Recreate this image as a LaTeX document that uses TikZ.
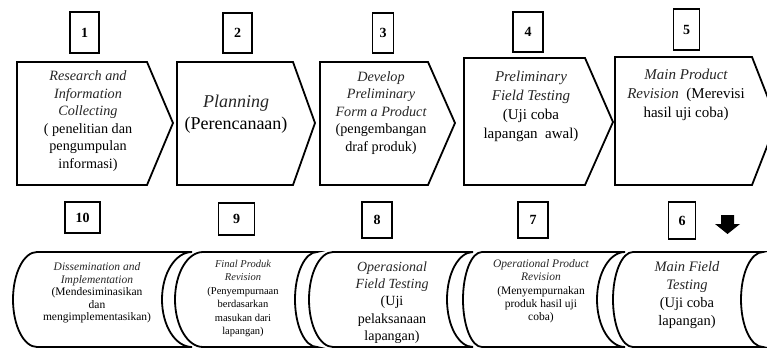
\documentclass[tikz,border=0pt]{standalone}
\usepackage{fontspec}
\setmainfont{Liberation Serif}
\newcommand{\myfs}[2]{\fontsize{#1}{#2}\selectfont}
\newcommand{\itx}[1]{{\itshape\color{black!85}#1}}
\tikzset{
  outline/.style={draw=black, line width=1.8pt, line join=miter, fill=white},
  numbox/.style={draw=black, line width=1.8pt, fill=white},
  numtxt/.style={font=\myfs{14}{16}\bfseries, inner sep=0pt},
  label/.style={align=center, inner sep=0pt}
}
% chevron: left, top, rectright, tip, tipy, bottom
\newcommand{\chevron}[6]{\path[outline] (#1,#2) -- (#3,#2) -- (#4,#5) -- (#3,#6) -- (#1,#6) -- cycle;}
% scroll: x0, x1, depth left, depth right, top, bottom
\newcommand{\scrollshape}[6]{%
  \pgfmathsetmacro{\mymid}{(#5+#6)/2}%
  \pgfmathsetmacro{\myh}{(#6-#5)/2*0.552}%
  \pgfmathsetmacro{\mydl}{#3*0.552}%
  \pgfmathsetmacro{\mydr}{#4*0.552}%
  \path[outline] (#1,#5) -- (#2,#5)
    .. controls ({#2-\mydr},#5) and ({#2-#4},{\mymid-\myh}) .. ({#2-#4},\mymid)
    .. controls ({#2-#4},{\mymid+\myh}) and ({#2-\mydr},#6) .. (#2,#6)
    -- (#1,#6)
    .. controls ({#1-\mydl},#6) and ({#1-#3},{\mymid+\myh}) .. ({#1-#3},\mymid)
    .. controls ({#1-#3},{\mymid-\myh}) and ({#1-\mydl},#5) .. (#1,#5) -- cycle;}
\begin{document}
\begin{tikzpicture}[x=1pt,y=-1pt]
\useasboundingbox (0,0) rectangle (767,351);
\clip (0,0) rectangle (767,351);
\fill[white] (0,0) rectangle (767,351);

% ---- top row chevrons
\chevron{17}{62}{147}{173}{123}{185}
\chevron{177}{62}{293}{315}{123}{185}
\chevron{320}{62}{428}{455}{123}{185}
\chevron{464}{58}{585}{613}{122}{185}
\chevron{615}{57}{752}{777}{121}{185}

% ---- top number boxes
\node[numbox, numtxt, minimum width=29pt, minimum height=41pt] (n1) at (84.5,32.5) {1};
\node[numbox, numtxt, minimum width=29pt, minimum height=40pt] (n2) at (237.5,33) {2};
\node[numbox, numtxt, minimum width=21pt, minimum height=40pt] (n3) at (383,33) {3};
\node[numbox, numtxt, minimum width=30pt, minimum height=40pt] (n4) at (528,32) {4};
\node[numbox, numtxt, minimum width=26pt, minimum height=41pt] (n5) at (686.5,29.5) {5};

% ---- top texts
\node[label, font=\myfs{14.2}{17.5}] (t1) at (88,121) {\itx{Research and}\\ \itx{Information}\\ \itx{Collecting}\\ ( penelitian dan\\ pengumpulan\\ informasi)};
\node[label, font=\myfs{18}{22}] (t2) at (236,114) {\itx{Planning}\\ (Perencanaan)};
\node[label, font=\myfs{14.2}{17.5}] (t3) at (381,113) {\itx{Develop}\\ \itx{Preliminary}\\ \itx{Form a Product}\\ (pengembangan\\ draf produk)};
\node[label, font=\myfs{15}{19}] (t4) at (531,106) {\itx{Preliminary}\\ \itx{Field Testing}\\ (Uji coba\\ lapangan~ awal)};
\node[label, font=\myfs{15}{19}] (t5) at (686,95) {\itx{Main Product}\\ \itx{Revision}~ (Merevisi\\ hasil uji coba)};

% ---- bottom scroll shapes
\scrollshape{633}{763}{20}{22}{252}{347}
\scrollshape{482}{625}{19}{28}{252}{347}
\scrollshape{333}{473}{24}{26}{252}{347}
\scrollshape{203}{317}{28}{22}{252}{347}
\scrollshape{37}{192}{24}{30}{252}{347}

% ---- bottom number boxes
\node[numbox, numtxt, minimum width=35pt, minimum height=31pt] (n10) at (82.5,217.5) {10};
\node[numbox, numtxt, minimum width=36pt, minimum height=32pt] (n9) at (236.5,219) {9};
\node[numbox, numtxt, minimum width=30pt, minimum height=36pt] (n8) at (377,220) {8};
\node[numbox, numtxt, minimum width=30pt, minimum height=36pt] (n7) at (533,220) {7};
\node[numbox, numtxt, minimum width=27pt, minimum height=37pt] (n6) at (682,220.5) {6};

% ---- down arrow
\fill[black] (721,215) -- (734,215) -- (734,224) -- (740,224) -- (727.5,234) -- (715,224) -- (721,224) -- cycle;
\node[inner sep=0pt] (arrow) at (727.5,224) {};

% ---- bottom texts
\node[label, font=\myfs{11.5}{12.6}] (t10) at (97,293) {\itx{Dissemination and}\\ \itx{Implementation}\\ (Mendesiminasikan\\ dan\\ mengimplementasikan)};
\node[label, font=\myfs{10.5}{13.4}] (t9) at (243,298.5) {\itx{Final Produk}\\ \itx{Revision}\\ (Penyempurnaan\\ berdasarkan\\ masukan dari\\ lapangan)};
\node[label, font=\myfs{14}{17.2}] (t8) at (392,302.5) {\itx{Operasional}\\ \itx{Field Testing}\\ (Uji\\ pelaksanaan\\ lapangan)};
\node[label, font=\myfs{11.5}{13.3}] (t7) at (541,291.5) {\itx{Operational Product}\\ \itx{Revision}\\ (Menyempurnakan\\ produk hasil uji\\ coba)};
\node[label, font=\myfs{14.5}{18}] (t6) at (687,295) {\itx{Main Field}\\ \itx{Testing}\\ (Uji coba\\ lapangan)};
\end{tikzpicture}
\end{document}
